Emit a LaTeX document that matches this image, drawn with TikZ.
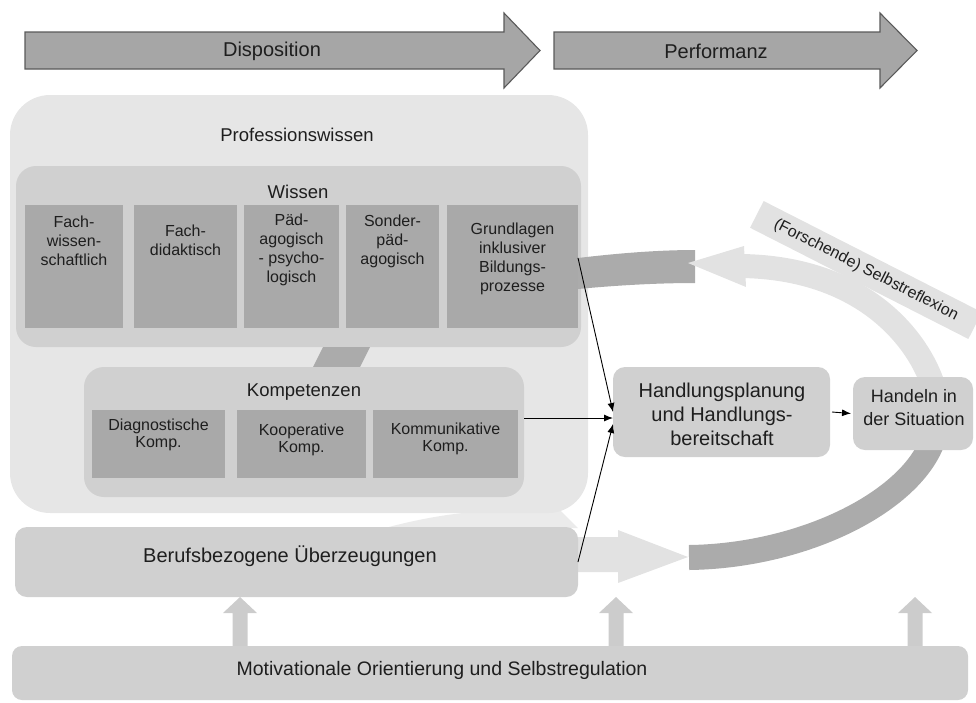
\documentclass[tikz,border=0pt]{standalone}
\usepackage{fontspec}
\setmainfont{Liberation Sans}
\usetikzlibrary{arrows.meta,calc}
\definecolor{arrowgrey}{HTML}{A6A6A6}
\definecolor{arrowline}{HTML}{5A5A5A}
\definecolor{pwfill}{HTML}{E6E6E6}
\definecolor{midfill}{HTML}{D0D0D0}
\definecolor{darkfill}{HTML}{A9A9A9}
\definecolor{lightband}{HTML}{E2E2E2}
\definecolor{wedgefill}{HTML}{EBEBEB}
\definecolor{darkband}{HTML}{ABABAB}
\definecolor{uparrow}{HTML}{CCCCCC}
\definecolor{txtcol}{HTML}{1E1E1E}
\begin{document}
\begin{tikzpicture}[x=1pt,y=-1pt,
  every node/.style={text=txtcol, inner sep=0pt, outer sep=0pt},
  fA/.style={font=\fontsize{20}{24}\selectfont},
  fB/.style={font=\fontsize{18.5}{22}\selectfont},
  fC/.style={font=\fontsize{16}{19}\selectfont},
  fD/.style={font=\fontsize{16}{17.5}\selectfont},
  bigarrow/.style={fill=arrowgrey, draw=arrowline, line width=1.1pt},
  pwbox/.style={fill=pwfill, rounded corners=40pt},
  midbox/.style={fill=midfill, rounded corners=20pt},
  innerbox/.style={fill=darkfill},
  actbox/.style={fill=midfill, rounded corners=12pt},
  conn/.style={draw=black, line width=0.9pt, -{Latex[length=9pt,width=7pt]}},
  tb/.style={align=center}
]
\useasboundingbox (0,0) rectangle (976,702);

% top arrows
\draw[bigarrow] (25,32) -- (504,32) -- (504,13) -- (540,50.5) -- (504,88) -- (504,69) -- (25,69) -- cycle;
\node[fA] (disp) at (272,51) {Disposition};
\draw[bigarrow] (554,32) -- (880,32) -- (880,13) -- (917,50.5) -- (880,88) -- (880,69) -- (554,69) -- cycle;
\node[fA] (perf) at (716,51) {Performanz};

% light wedge from Professionswissen towards the lower band
\fill[wedgefill] (385,528) .. controls (430,516) and (470,510) .. (520,510) -- (560,510) -- (578,528) -- cycle;

% Professionswissen
\node[pwbox, minimum width=578, minimum height=418] (pw) at (299,304) {};
\node[fB] (pwt) at (297,135) {Professionswissen};

% Wissen
\node[midbox, minimum width=565, minimum height=181] (wi) at (298.5,256.5) {};
\node[fB] (wit) at (298,192) {Wissen};
\node[innerbox, minimum width=98, minimum height=123] (b1) at (74,266.5) {};
\node[innerbox, minimum width=103, minimum height=123] (b2) at (185.5,266.5) {};
\node[innerbox, minimum width=95, minimum height=123] (b3) at (291.5,266.5) {};
\node[innerbox, minimum width=93, minimum height=123] (b4) at (392.5,266.5) {};
\node[innerbox, minimum width=131, minimum height=123] (b5) at (512.5,266.5) {};
\node[fC, tb] (t1) at (74,241) {Fach-\\wissen-\\schaftlich};
\node[fC, tb] (t2) at (185.5,240) {Fach-\\didaktisch};
\node[fC, tb] (t3) at (291.5,250) {Päd-\\agogisch\\- psycho-\\logisch};
\node[fC, tb] (t4) at (392.5,241) {Sonder-\\päd-\\agogisch};
\node[fC, tb] (t5) at (512.5,259) {Grundlagen\\inklusiver\\Bildungs-\\prozesse};

% link between Wissen and Kompetenzen
\fill[darkband] (323,347) -- (370,347) -- (360,367) -- (313,367) -- cycle;

% Kompetenzen
\node[midbox, minimum width=440, minimum height=130] (ko) at (304,432) {};
\node[fB] (kot) at (304,392) {Kompetenzen};
\node[innerbox, minimum width=133, minimum height=68] (k1) at (158.5,444) {};
\node[innerbox, minimum width=129, minimum height=68] (k2) at (301.5,444) {};
\node[innerbox, minimum width=145, minimum height=68] (k3) at (445.5,444) {};
\node[fD, tb] (kt1) at (158.5,435) {Diagnostische\\Komp.};
\node[fD, tb] (kt2) at (301.5,440) {Kooperative\\Komp.};
\node[fD, tb] (kt3) at (445.5,439) {Kommunikative\\Komp.};

% bands of the cycle
\draw[darkband, line width=25pt] (689,557.5) .. controls (800,556) and (905,505) .. (931,445);
\draw[lightband, line width=24pt] (932,382) .. controls (915,335) and (860,268) .. (742,266);
\fill[darkband] (578,258) .. controls (620,253) and (660,250) .. (695,250) -- (695,283) .. controls (660,283) and (620,285) .. (578,289) -- cycle;
\fill[lightband] (688,263) -- (744,246) -- (746,287) -- cycle;
\fill[lightband] (560,537) -- (618,537) -- (618,530) -- (688,557) -- (618,583) -- (618,572) -- (560,572) -- cycle;

% label of the reflection band
\node[fill=lightband, rotate=-27, minimum width=245, minimum height=30, font=\fontsize{16}{19}\selectfont] (sr) at (866,270) {(Forschende) Selbstreflexion};

% Berufsbezogene Ueberzeugungen
\node[actbox, minimum width=563, minimum height=70] (ub) at (296.5,562) {};
\node[fA] (ubt) at (290,556) {Berufsbezogene Überzeugungen};

% action boxes
\node[actbox, minimum width=217, minimum height=90] (hp) at (721.5,412) {};
\node[tb, font=\fontsize{20}{24}\selectfont] (hpt) at (722,414) {Handlungsplanung\\und Handlungs-\\bereitschaft};
\node[actbox, minimum width=120, minimum height=73] (hd) at (913,413.5) {};
\node[tb, font=\fontsize{18}{23}\selectfont] (hdt) at (914,408) {Handeln in\\der Situation};

% up arrows
\foreach \c in {240,616,915} {
  \fill[uparrow] (\c-7.5,648) -- (\c-7.5,613) -- (\c-17,613) -- (\c,597) -- (\c+17,613) -- (\c+7.5,613) -- (\c+7.5,648) -- cycle;
}

% Motivationale Orientierung
\node[actbox, rounded corners=10pt, minimum width=956, minimum height=54] (mo) at (490,673) {};
\node[font=\fontsize{19.5}{23}\selectfont] (mot) at (442,670) {Motivationale Orientierung und Selbstregulation};

% connectors
\draw[conn] ($(b5.north east)!0.43!(b5.south east)$) -- (hp.west);
\draw[conn] ($(ko.east)+(0,-14)$) -- ($(hp.west)+(0,6)$);
\draw[conn] (ub.east) -- ($(hp.west)+(0,12)$);
\draw[conn] ($(hp.east)+(2,0)$) -- ($(hd.west)+(-2,0)$);
\end{tikzpicture}
\end{document}
